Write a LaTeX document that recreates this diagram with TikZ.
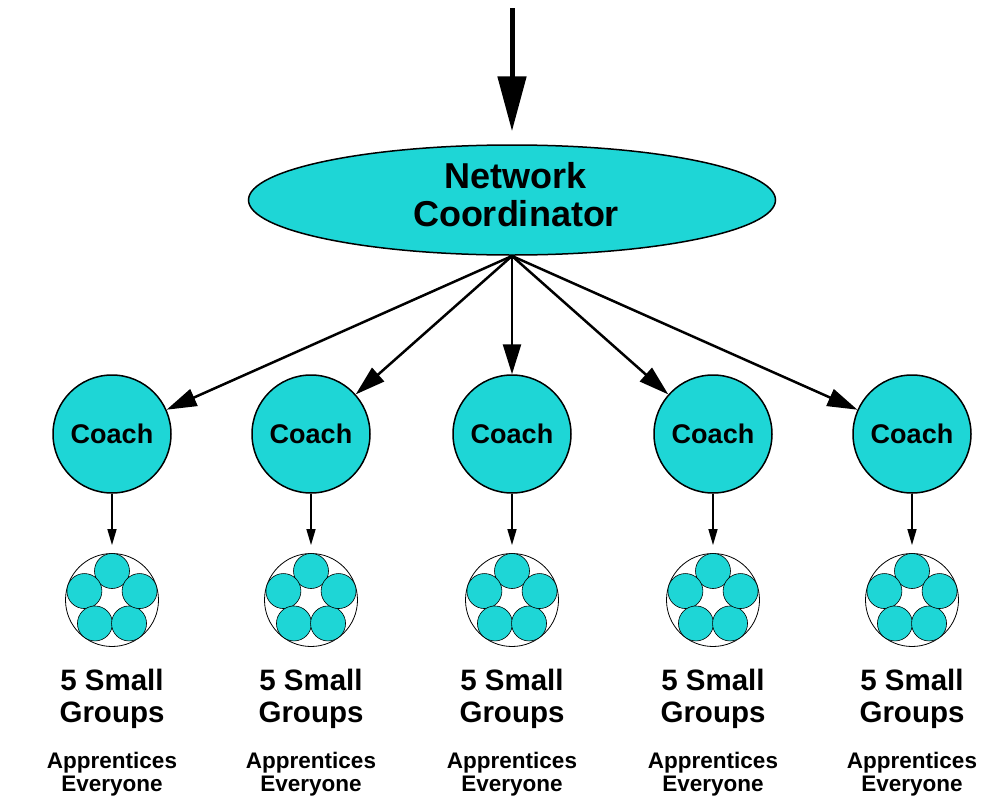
\documentclass[tikz,border=0pt]{standalone}
\usepackage{fontspec}
\setmainfont{Liberation Sans}
\usetikzlibrary{arrows.meta,shapes.geometric,calc}
\definecolor{cy}{RGB}{30,214,214}
\begin{document}
\begin{tikzpicture}[x=1pt,y=1pt,
  ell/.style={ellipse,draw=black,line width=1.5pt,fill=cy,minimum width=527pt,minimum height=110pt,inner sep=0pt,
    font=\fontsize{36}{38}\selectfont\bfseries,align=center},
  coach/.style={circle,draw=black,line width=1.5pt,fill=cy,minimum size=118pt,inner sep=0pt,
    font=\fontsize{27}{30}\selectfont\bfseries},
  grp/.style={circle,draw=black,line width=0.8pt,fill=white,minimum size=93pt,inner sep=0pt},
  sub/.style={circle,draw=black,line width=0.6pt,fill=cy,minimum size=35pt,inner sep=0pt},
  lbl/.style={font=\fontsize{29.5}{32}\selectfont\bfseries,align=center,inner sep=0pt},
  lbls/.style={font=\fontsize{22.5}{23}\selectfont\bfseries,align=center,inner sep=0pt},
  bigarr/.style={line width=5pt,-{Triangle[length=55pt,width=28pt]}},
  midarr/.style={line width=2.5pt,-{Triangle[length=30pt,width=18pt]}},
  smallarr/.style={line width=1.5pt,-{Triangle[length=16pt,width=9pt]}}]
\useasboundingbox (0,0) rectangle (989,-809);
\node[ell] (nc) at (512,-200) {};
\node[font=\fontsize{36}{38}\selectfont\bfseries,align=center,inner sep=0pt] (nct) at (516,-195) {Network\\Coordinator};
\coordinate (top) at (512,-8);
\draw[bigarr,shorten >=13pt] (top) -- (nc.north);
\coordinate (src) at (512,-256);
\foreach \i/\x in {1/112,2/311,3/512,4/713,5/912}{
  \node[coach] (c\i) at (\x,-434) {Coach};
  \draw[midarr] (src) -- (c\i);
  \node[grp] (g\i) at (\x,-600) {};
  \draw[smallarr,shorten >=8pt] (c\i.south) -- (g\i.north);
  \foreach \a [count=\k] in {90,162,234,306,18}{
    \node[sub] (s\i\k) at ($(\x,-600)+(\a:29)$) {};
  }
  \node[lbl] (t\i) at (\x,-699) {5 Small\\Groups};
  \node[lbls] (u\i) at (\x,-774) {Apprentices\\Everyone};
}
\end{tikzpicture}
\end{document}
